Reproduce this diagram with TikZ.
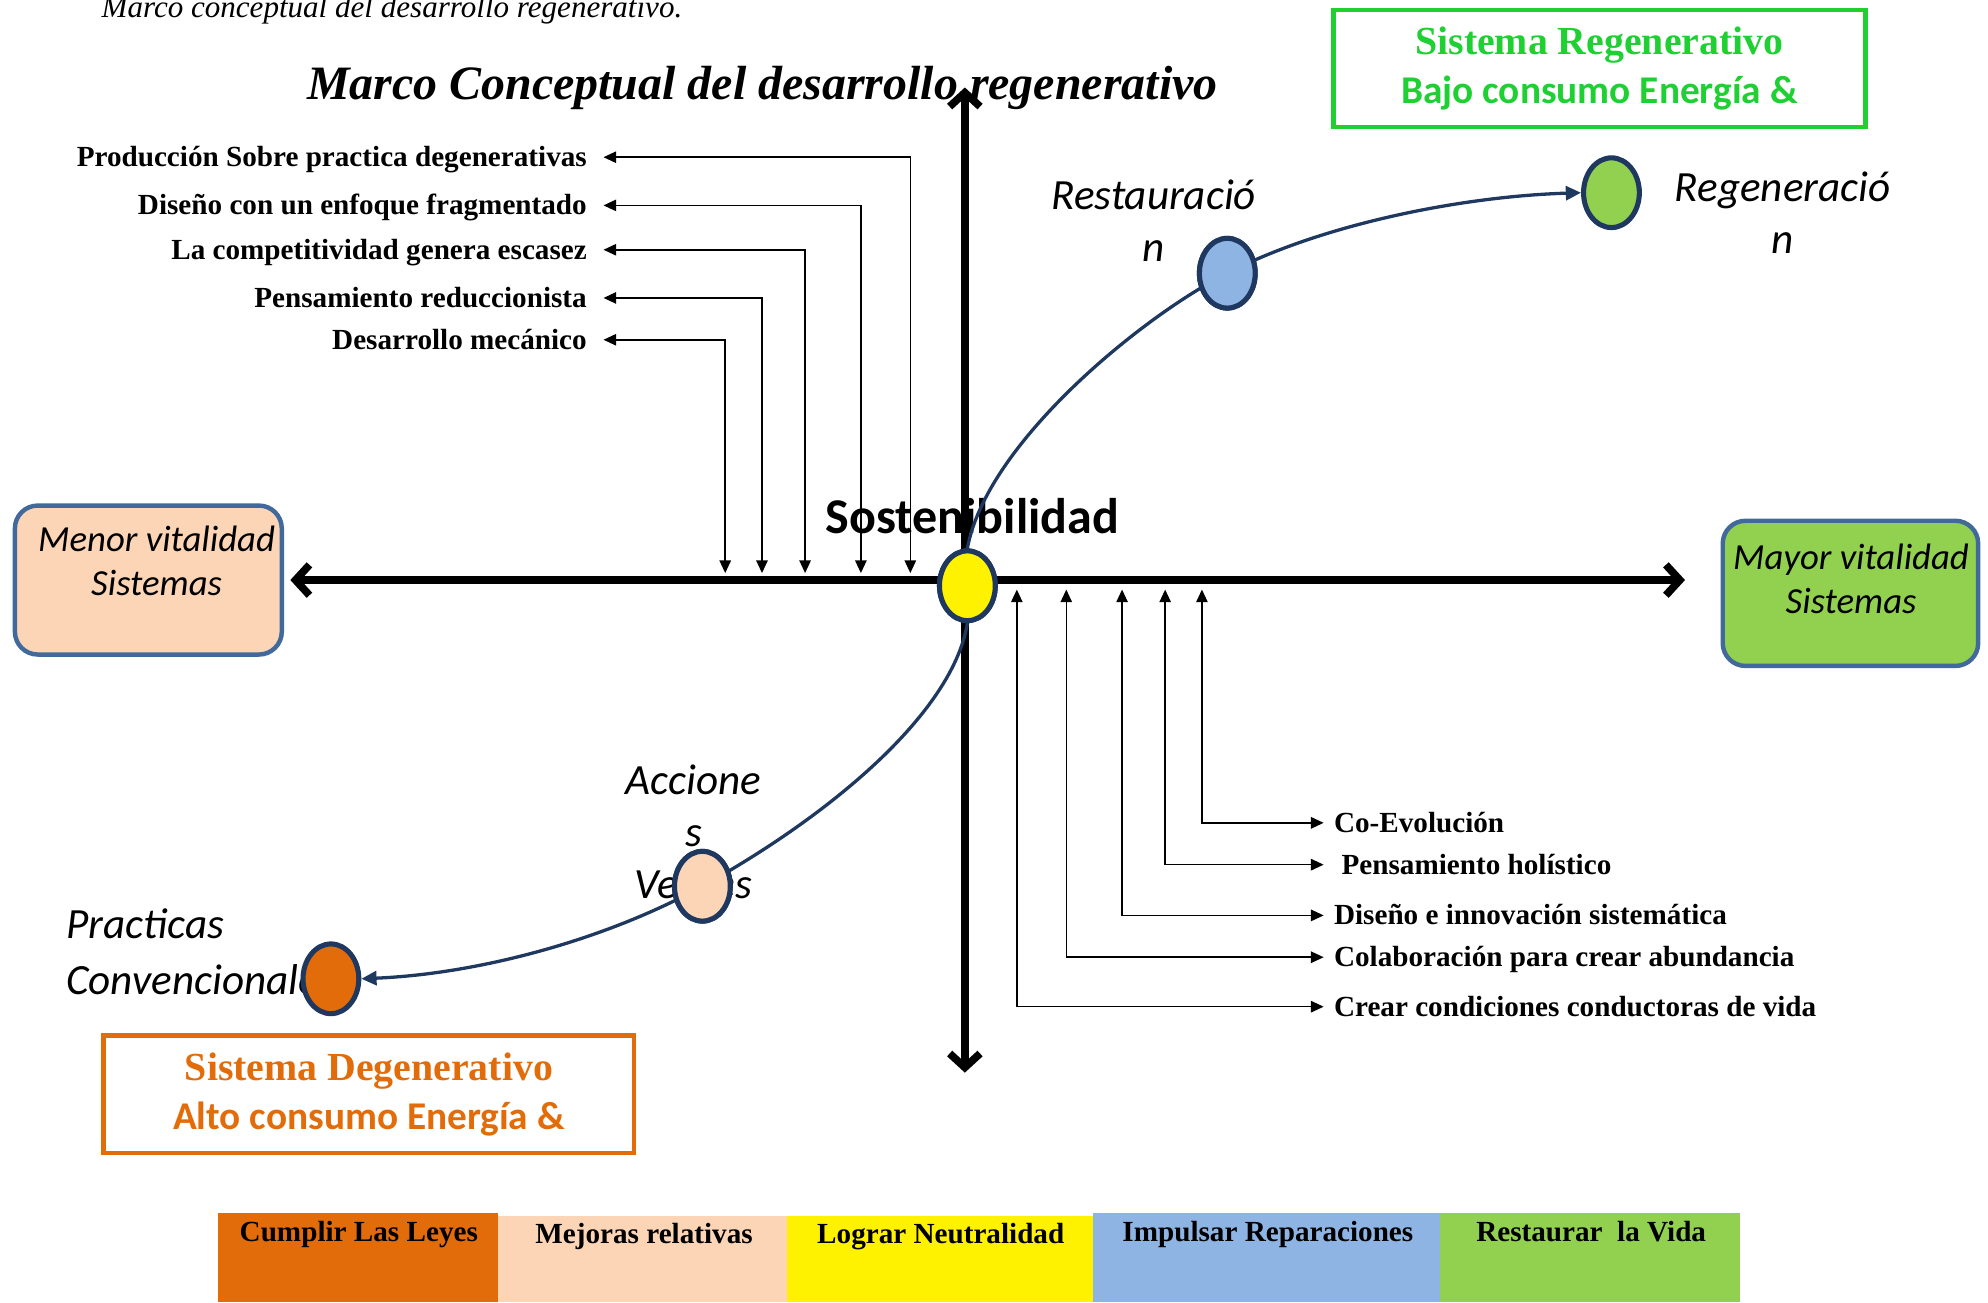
\documentclass[tikz,border=0pt]{standalone}
\usepackage{fontspec}
\setmainfont{Liberation Serif}
\newfontfamily\calfont{Carlito}
\usetikzlibrary{arrows.meta,shapes.geometric}
\definecolor{navy}{RGB}{31,56,96}
\definecolor{boxblue}{RGB}{65,105,155}
\definecolor{peach}{RGB}{251,213,181}
\definecolor{lgreen}{RGB}{146,208,80}
\definecolor{lblue}{RGB}{142,180,227}
\definecolor{orng}{RGB}{227,108,10}
\definecolor{bgreen}{RGB}{30,208,50}
\newcommand{\fsz}[2]{\fontsize{#1pt}{#2pt}\selectfont}
\begin{document}
\begin{tikzpicture}[x=1pt,y=-1pt,
 ltext/.style={font=\bfseries\fsz{23}{27}, text height=15pt, text depth=0pt, inner ysep=0pt},
 listarr/.style={line width=1.2pt, {Triangle[length=10pt,width=9pt]}-{Triangle[length=10pt,width=9pt]}},
 axisline/.style={line width=6pt, {Straight Barb[length=11pt,width=24pt]}-{Straight Barb[length=11pt,width=24pt]}},
 navycurve/.style={draw=navy, line width=2.6pt, -{Triangle[length=12pt,width=11pt]}},
 disc/.style={ellipse, draw=navy, line width=4pt, minimum width=44pt, minimum height=55pt, inner sep=0pt},
 calit/.style={font=\calfont\itshape\fsz{34}{41}, align=center, inner sep=0pt},
 boxit/.style={font=\calfont\itshape\fsz{29}{35}, align=center, inner sep=0pt},
 sidebox/.style={draw=boxblue, line width=3.5pt, rounded corners=18pt, inner sep=0pt},
 framebox/.style={line width=3.5pt, align=center, inner sep=0pt, font=\bfseries\fsz{31.4}{38.6}},
 barlbl/.style={font=\bfseries\fsz{23}{27}, inner sep=0pt, anchor=base},
]
\useasboundingbox (0,0) rectangle (1568,1027);

% captions
\node[anchor=base west, inner sep=0pt, font=\itshape\fsz{24.5}{28}] (cap) at (80,14) {Marco conceptual del desarrollo regenerativo.};
\node[anchor=base west, inner sep=0pt, font=\bfseries\itshape\fsz{37.8}{42}] (title) at (242,78.5) {Marco Conceptual del desarrollo regenerativo};

% framed system boxes
\node[framebox, draw=bgreen, text=bgreen, minimum width=419.5pt, minimum height=92.5pt] (gbox) at (1261.5,54)
  {Sistema Regenerativo\\{\calfont\fsz{31}{38.6}Bajo consumo Energía \&}};
\node[framebox, draw=orng, text=orng, minimum width=418.5pt, minimum height=92.5pt] (obox) at (291,863)
  {Sistema Degenerativo\\{\calfont\fsz{31}{38.6}Alto consumo Energía \&}};

% central label
\node[anchor=base west, inner sep=0pt, font=\calfont\bfseries\fsz{39.5}{44}] (sost) at (651,421) {Sostenibilidad};

% stage labels (anchor base = last line)
\node[calit, anchor=base] (restT) at (910,206) {Restauració\\n};
\node[calit, anchor=base] (regT) at (1406,200) {Regeneració\\n};
\node[calit, anchor=base] (accT) at (547,709) {Accione\\s\\Verdes};
\node[calit, anchor=base west, align=left, font=\calfont\itshape\fsz{34}{44}] (pracT) at (52,784) {Practicas\\Convencionales};

% left list
\node[ltext, anchor=east, inner xsep=13pt] (l1) at (476,124) {Producción Sobre practica degenerativas};
\node[ltext, anchor=east, inner xsep=13pt] (l2) at (476,162) {Diseño con un enfoque fragmentado};
\node[ltext, anchor=east, inner xsep=13pt] (l3) at (476,197) {La competitividad genera escasez};
\node[ltext, anchor=east, inner xsep=13pt] (l4) at (476,235) {Pensamiento reduccionista};
\node[ltext, anchor=east, inner xsep=13pt] (l5) at (476,268) {Desarrollo mecánico};
\coordinate (la1) at (718,452);
\coordinate (la2) at (679,452);
\coordinate (la3) at (635,452);
\coordinate (la4) at (601,452);
\coordinate (la5) at (572,452);
\draw[listarr] (l1.east) -| (la1);
\draw[listarr] (l2.east) -| (la2);
\draw[listarr] (l3.east) -| (la3);
\draw[listarr] (l4.east) -| (la4);
\draw[listarr] (l5.east) -| (la5);

% right list
\node[ltext, anchor=west, inner xsep=8pt] (r1) at (1044,649) {Co-Evolución};
\node[ltext, anchor=west, inner xsep=8pt] (r2) at (1044,682) {\hspace{6pt}Pensamiento holístico};
\node[ltext, anchor=west, inner xsep=8pt] (r3) at (1044,722) {Diseño e innovación sistemática};
\node[ltext, anchor=west, inner xsep=8pt] (r4) at (1044,755) {Colaboración para crear abundancia};
\node[ltext, anchor=west, inner xsep=8pt] (r5) at (1044,794) {Crear condiciones conductoras de vida};
\coordinate (ra1) at (948,465);
\coordinate (ra2) at (919,465);
\coordinate (ra3) at (885,465);
\coordinate (ra4) at (841,465);
\coordinate (ra5) at (802,465);
\draw[listarr] (ra1) |- (r1.west);
\draw[listarr] (ra2) |- (r2.west);
\draw[listarr] (ra3) |- (r3.west);
\draw[listarr] (ra4) |- (r4.west);
\draw[listarr] (ra5) |- (r5.west);

% axes
\coordinate (hl) at (229,457.5);
\coordinate (hr) at (1329,457.5);
\coordinate (vt) at (761,69);
\coordinate (vb) at (761,846);
\draw[axisline] (hl) -- (hr);
\draw[axisline] (vt) -- (vb);

% stage dots
\coordinate (Yc) at (763,462);
\coordinate (Bc) at (968,215.5);
\coordinate (Gc) at (1271,152);
\coordinate (Pc) at (554,699);
\coordinate (Oc) at (261,772);
\node[disc, fill=yellow] (Y) at (Yc) {};
\node[disc, fill=lblue] (B) at (Bc) {};
\node[disc, fill=lgreen] (G) at (Gc) {};
\node[disc, fill=peach] (P) at (Pc) {};
\node[disc, fill=orng] (O) at (Oc) {};

% curves, then the dots they pass through drawn again on top
\draw[navycurve] (Y.north) .. controls (778,350) and (900,250) .. (B.center) .. controls (1040,178) and (1150,155) .. (G.west);
\draw[navycurve] (Y.south) .. controls (752,560) and (660,640) .. (P.center) .. controls (480,740) and (380,768) .. (O.east);
\node[disc, fill=yellow] (Y2) at (Yc) {};
\node[disc, fill=lblue] (B2) at (Bc) {};
\node[disc, fill=peach] (P2) at (Pc) {};

% side boxes
\node[sidebox, fill=peach, minimum width=210.5pt, minimum height=117.5pt] (menor) at (117,457.5) {};
\node[boxit, anchor=base] (menorT) at (123.5,470) {Menor vitalidad\\Sistemas};
\node[sidebox, fill=lgreen, minimum width=201.5pt, minimum height=114.5pt] (mayor) at (1459.5,468) {};
\node[boxit, anchor=base] (mayorT) at (1460,484) {Mayor vitalidad\\Sistemas};

% bottom bar
\fill[orng] (172,957) rectangle (393,1027);
\fill[peach] (393,959) rectangle (621,1027);
\fill[yellow] (621,959) rectangle (862,1027);
\fill[lblue] (862,957) rectangle (1136,1027);
\fill[lgreen] (1136,957) rectangle (1372,1027);
\node[barlbl] (b1) at (283,979) {Cumplir Las Leyes};
\node[barlbl] (b2) at (508,981) {Mejoras relativas};
\node[barlbl] (b3) at (742,981) {Lograr Neutralidad};
\node[barlbl] (b4) at (1000,979) {Impulsar Reparaciones};
\node[barlbl] (b5) at (1255,979) {Restaurar\ \ la Vida};
\end{tikzpicture}
\end{document}
